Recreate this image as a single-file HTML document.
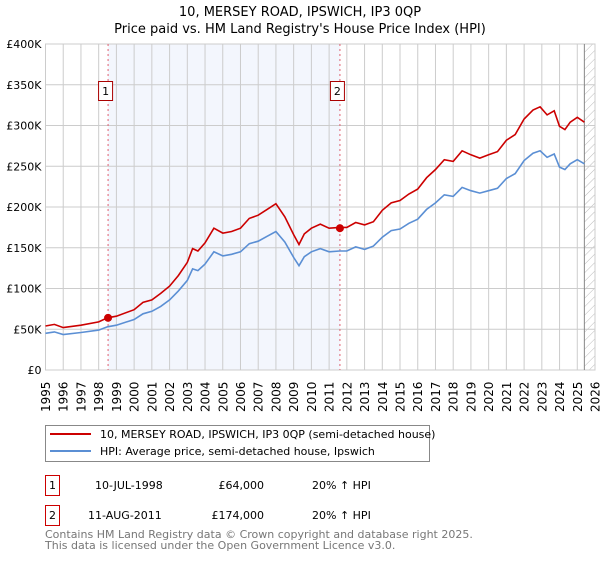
<!DOCTYPE html>
<html><head><meta charset="utf-8">
<style>
body{margin:0;background:#fff;font-family:"DejaVu Sans","Liberation Sans",sans-serif;}
svg text{font-family:"DejaVu Sans","Liberation Sans",sans-serif;}
</style></head>
<body>
<svg id="c" width="600" height="560" xmlns="http://www.w3.org/2000/svg">
<defs>
<pattern id="hatch" width="6" height="6" patternUnits="userSpaceOnUse" patternTransform="rotate(45)">
<line x1="0" y1="0" x2="0" y2="6" stroke="#bbb" stroke-width="1"/>
</pattern>
</defs>
<text x="300" y="16" text-anchor="middle" font-size="13" fill="#000">10, MERSEY ROAD, IPSWICH, IP3 0QP</text>
<text x="300" y="33" text-anchor="middle" font-size="13" fill="#000">Price paid vs. HM Land Registry's House Price Index (HPI)</text>
<g id="plot"></g>
<g>
<rect x="45.5" y="425.5" width="384" height="36" fill="#fff" stroke="#888"/>
<line x1="50" y1="434" x2="91" y2="434" stroke="#cc0000" stroke-width="2"/>
<text x="100" y="438" font-size="11">10, MERSEY ROAD, IPSWICH, IP3 0QP (semi-detached house)</text>
<line x1="50" y1="451" x2="91" y2="451" stroke="#5b8fd4" stroke-width="2"/>
<text x="100" y="455" font-size="11">HPI: Average price, semi-detached house, Ipswich</text>
</g>
<g>
<rect x="45.5" y="475.5" width="14" height="20" fill="#fff" stroke="#cc0000"/>
<text x="52.5" y="489" font-size="11" text-anchor="middle">1</text>
<text x="95" y="489" font-size="11">10-JUL-1998</text>
<text x="264" y="489" font-size="11" text-anchor="end">£64,000</text>
<text x="312" y="489" font-size="11">20% ↑ HPI</text>
<rect x="45.5" y="505.5" width="14" height="20" fill="#fff" stroke="#cc0000"/>
<text x="52.5" y="519" font-size="11" text-anchor="middle">2</text>
<text x="88" y="519" font-size="11">11-AUG-2011</text>
<text x="264" y="519" font-size="11" text-anchor="end">£174,000</text>
<text x="312" y="519" font-size="11">20% ↑ HPI</text>
</g>
<text x="45" y="538" font-size="11" fill="#777">Contains HM Land Registry data © Crown copyright and database right 2025.</text>
<text x="45" y="549" font-size="11" fill="#777">This data is licensed under the Open Government Licence v3.0.</text>
</svg>
<script>
const years=[1995,1995.5,1996,1997,1998,1998.5,1999,2000,2000.5,2001,2001.5,2002,2002.5,2003,2003.3,2003.6,2004,2004.5,2005,2005.5,2006,2006.5,2007,2007.5,2008,2008.5,2009,2009.3,2009.6,2010,2010.5,2011,2011.6,2012,2012.5,2013,2013.5,2014,2014.5,2015,2015.5,2016,2016.5,2017,2017.5,2018,2018.5,2019,2019.5,2020,2020.5,2021,2021.5,2022,2022.5,2022.9,2023.3,2023.7,2024,2024.3,2024.6,2025,2025.4];
const hpiValues=[45,46.7,43.5,46,49,53,55,62,69,72,78,86,97,110,124,122,130,145,140,142,145,155,158,164,170,157,138,128,139,145,149,145,146,146,151,148,152,163,171,173,180,185,197,205,215,213,224,220,217,220,223,235,241,257,266,269,261,265,249,246,253,258,253];
const propValues=[54,56,52,55,59,64,66,74,83,86,94,103,116,132,149,146,156,174,168,170,174,186,190,197,204,188,166,154,167,174,179,174,175,175,181,178,182,196,205,208,216,222,236,246,258,256,269,264,260,264,268,282,289,308,319,323,313,318,299,295,304,310,304];
const saleYears=[1998.53,2011.61];
const salePrices=[64,174];
const saleLabels=["1","2"];
const yTicks=[0,50,100,150,200,250,300,350,400];
const yTickLabels=["£0","£50K","£100K","£150K","£200K","£250K","£300K","£350K","£400K"];
const xTicks=[1995,1996,1997,1998,1999,2000,2001,2002,2003,2004,2005,2006,2007,2008,2009,2010,2011,2012,2013,2014,2015,2016,2017,2018,2019,2020,2021,2022,2023,2024,2025,2026];

const X0=45.5,X1=595,Y0=370,Y1=44;
const xs=y=>X0+(y-1995)/(2026-1995)*(X1-X0);
const ys=v=>Y0-v/400*(Y0-Y1);
const NS="http://www.w3.org/2000/svg";
const g=document.getElementById('plot');
function mk(t,a,p){const e=document.createElementNS(NS,t);for(const k in a)e.setAttribute(k,a[k]);(p||g).appendChild(e);return e;}

const shade=mk('rect',{x:xs(saleYears[0]),y:Y1,width:xs(saleYears[1])-xs(saleYears[0]),height:Y0-Y1,fill:'#f3f6fd'});


const hat=mk('rect',{x:xs(2025.4),y:Y1,width:X1-xs(2025.4),height:Y0-Y1,fill:'url(#hatch)'});



xTicks.forEach((t,i)=>{
  const l=mk('line',{x1:xs(t),x2:xs(t),y1:Y1,y2:Y0,stroke:'#cccccc','stroke-width':1});
  
  
  const s=String(t);
  const px=xs(t)+4.5, bottom=412, adv=7.6;
  const xsl=[],ysl=[],rs=[];
  for(let k=0;k<s.length;k++){xsl.push(px.toFixed(1));ysl.push((bottom-k*adv).toFixed(1));rs.push(-90);}
  const tx=mk('text',{x:xsl.join(' '),y:ysl.join(' '),rotate:rs.join(' '),'font-size':12});
  tx.textContent=s;
  
  
});
yTicks.forEach((t,i)=>{
  const l=mk('line',{x1:X0,x2:X1,y1:ys(t),y2:ys(t),stroke:'#cccccc','stroke-width':1});
  
  
  const tx=mk('text',{x:X0-4,y:ys(t)+4,'font-size':11,'text-anchor':'end'});
  tx.textContent=yTickLabels[i];
  
  
});
const border=mk('rect',{x:X0,y:Y1,width:X1-X0,height:Y0-Y1,fill:'none',stroke:'#cccccc'});


const nowL=mk('line',{x1:xs(2025.4),x2:xs(2025.4),y1:Y1,y2:Y0,stroke:'#888','stroke-width':1});



saleYears.forEach((s,i)=>{
  const l=mk('line',{x1:xs(s),x2:xs(s),y1:Y1,y2:Y0,stroke:'#e06070','stroke-width':1,'stroke-dasharray':'2,3'});
  
  
});

function path(vals){return years.map((y,i)=>(i?'L':'M')+xs(y).toFixed(1)+','+ys(vals[i]).toFixed(1)).join(' ');}
const hp=mk('path',{d:path(hpiValues),fill:'none',stroke:'#5b8fd4','stroke-width':1.6});


const pp=mk('path',{d:path(propValues),fill:'none',stroke:'#cc0000','stroke-width':1.6});



saleYears.forEach((s,i)=>{
  const c=mk('circle',{cx:xs(s),cy:ys(salePrices[i]),r:4,fill:'#cc0000'});
  
  
  const b=mk('rect',{x:xs(s)-9.5,y:81.5,width:14,height:19,fill:'#fff',stroke:'#aa0000'});
  
  
  const t=mk('text',{x:xs(s)-2.5,y:95,'font-size':11,'text-anchor':'middle'});
  t.textContent=saleLabels[i];
  
  
});
</script>
</body></html>
